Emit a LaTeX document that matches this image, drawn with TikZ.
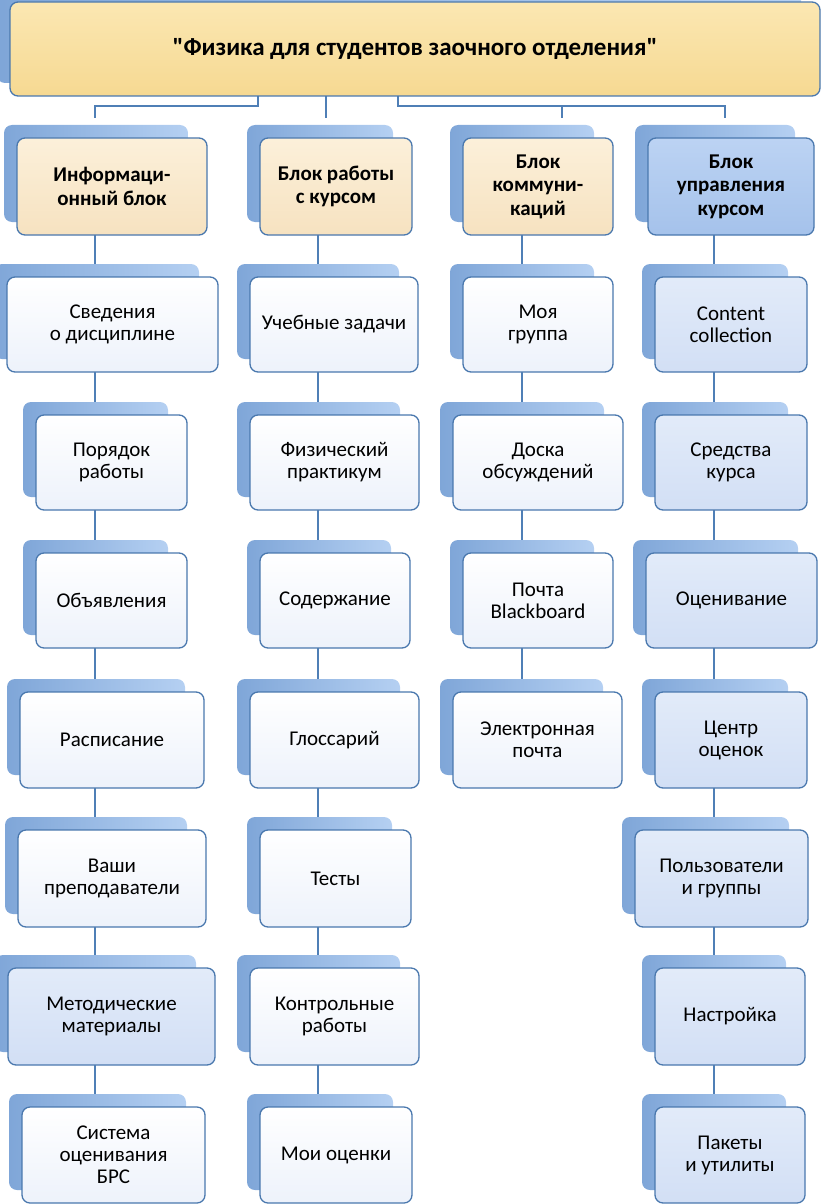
\documentclass[tikz,border=0pt]{standalone}
\usepackage{fontspec}
\setmainfont{Carlito}[Ligatures=TeXOff]
\usetikzlibrary{calc,backgrounds}
\definecolor{edgec}{HTML}{4A78AE}
\definecolor{connc}{HTML}{4F7FB6}
\definecolor{shL}{HTML}{7FA6D8}
\definecolor{shR}{HTML}{B5D0F2}
\definecolor{whiteB}{HTML}{EDF2FB}
\definecolor{blueA}{HTML}{E2EBF9}
\definecolor{blueB}{HTML}{D2DFF5}
\definecolor{hblueA}{HTML}{BCD3F3}
\definecolor{hblueB}{HTML}{A5C2EB}
\definecolor{peachA}{HTML}{FCF0DA}
\definecolor{peachB}{HTML}{F6E2C0}
\definecolor{goldA}{HTML}{FBE7B2}
\definecolor{goldB}{HTML}{F6D992}
\tikzset{
  front/.style={draw=edgec, line width=1.3pt, rounded corners=8pt, inner sep=0pt, outer sep=0pt,
    align=center, font=\fontsize{21}{22}\selectfont},
  whitebox/.style={front, top color=white, bottom color=whiteB},
  bluebox/.style={front, top color=blueA, bottom color=blueB},
  peachbox/.style={front, top color=peachA, bottom color=peachB, font=\bfseries\fontsize{21}{23.5}\selectfont},
  hbluebox/.style={front, top color=hblueA, bottom color=hblueB, font=\bfseries\fontsize{21}{23.5}\selectfont},
  goldbox/.style={front, top color=goldA, bottom color=goldB, font=\bfseries\fontsize{25}{28}\selectfont},
  shadowbox/.style={rounded corners=8pt, left color=shL, right color=shR},
  conn/.style={draw=connc, line width=2pt},
}
\newcommand\drawblock[7]{%
  \path[shadowbox] ({#2-13},{#3-13}) rectangle ({#4-19},{#5-13});
  \node[#6, minimum width={(#4-#2)*1pt}, minimum height={(#5-#3)*1pt}] (#1) at ({(#2+#4)/2},{(#3+#5)/2}) {#7};
}
\begin{document}
\begin{tikzpicture}[x=1pt,y=-1pt]
\useasboundingbox (0,0) rectangle (828,1204);
% top
\drawblock{top}{10}{2}{820}{96}{goldbox}{"Физика для студентов заочного отделения"}
% headers
\drawblock{h1}{17}{138}{207}{235}{peachbox}{Информаци-\\онный блок}
\drawblock{h2}{260}{138}{412}{235}{peachbox}{Блок работы\\с курсом}
\drawblock{h3}{463}{138}{613}{235}{peachbox}{Блок\\коммуни-\\каций}
\drawblock{h4}{648}{138}{814}{235}{hbluebox}{Блок\\управления\\курсом}
% row 2
\drawblock{a2}{7}{277}{218}{372}{whitebox}{Сведения\\о дисциплине}
\drawblock{b2}{250}{277}{418}{372}{whitebox}{Учебные задачи}
\drawblock{c2}{463}{277}{613}{372}{whitebox}{Моя\\группа}
\drawblock{d2}{655}{277}{807}{372}{bluebox}{Content\\collection}
% row 3
\drawblock{a3}{36}{415}{187}{510}{whitebox}{Порядок\\работы}
\drawblock{b3}{250}{415}{419}{510}{whitebox}{Физический\\практикум}
\drawblock{c3}{453}{415}{623}{510}{whitebox}{Доска\\обсуждений}
\drawblock{d3}{655}{415}{807}{510}{bluebox}{Средства\\курса}
% row 4
\drawblock{a4}{36}{553}{187}{648}{whitebox}{Объявления}
\drawblock{b4}{260}{553}{410}{648}{whitebox}{Содержание}
\drawblock{c4}{463}{553}{613}{648}{whitebox}{Почта\\Blackboard}
\drawblock{d4}{646}{553}{817}{648}{bluebox}{Оценивание}
% row 5
\drawblock{a5}{20}{692}{204}{788}{whitebox}{Расписание}
\drawblock{b5}{250}{692}{419}{788}{whitebox}{Глоссарий}
\drawblock{c5}{453}{692}{622}{788}{whitebox}{Электронная\\почта}
\drawblock{d5}{655}{692}{807}{788}{bluebox}{Центр\\оценок}
% row 6
\drawblock{a6}{18}{830}{206}{927}{whitebox}{Ваши\\преподаватели}
\drawblock{b6}{260}{830}{411}{927}{whitebox}{Тесты}
\drawblock{d6}{635}{830}{808}{927}{bluebox}{Пользователи\\и группы}
% row 7
\drawblock{a7}{8}{968}{215}{1065}{bluebox}{Методические\\материалы}
\drawblock{b7}{250}{968}{419}{1065}{whitebox}{Контрольные\\работы}
\drawblock{d7}{655}{968}{805}{1065}{bluebox}{Настройка}
% row 8
\drawblock{a8}{22}{1107}{205}{1203}{whitebox}{Система\\оценивания\\БРС}
\drawblock{b8}{260}{1107}{412}{1203}{whitebox}{Мои оценки}
\drawblock{d8}{655}{1107}{805}{1203}{bluebox}{Пакеты\\и утилиты}
% coordinates
\coordinate (t1) at (258,106);
\coordinate (t2) at (326,106);
\coordinate (t3) at (398,106);
\coordinate (x3) at (562,106);
\coordinate (x4) at (725,106);
\coordinate (colA) at (95,0);
\coordinate (colB) at (318,0);
\coordinate (colC) at (522,0);
\coordinate (colD) at (714,0);
\begin{scope}[on background layer]
\draw[conn] (top.south -| t1) -- (t1) -- (t1 -| colA) -- ($(h1.north -| colA)+(0,-20)$);
\draw[conn] (top.south -| t2) -- ($(h2.north -| t2)+(0,-20)$);
\draw[conn] (top.south -| t3) -- (t3) -- (x4) -- ($(h4.north -| x4)+(0,-20)$);
\draw[conn] (x3) -- ($(h3.north -| x3)+(0,-20)$);
\foreach \a/\b in {h1/a2,a2/a3,a3/a4,a4/a5,a5/a6,a6/a7,a7/a8}
  \draw[conn] (\a.south -| colA) -- (\b.north -| colA);
\foreach \a/\b in {h2/b2,b2/b3,b3/b4,b4/b5,b5/b6,b6/b7,b7/b8}
  \draw[conn] (\a.south -| colB) -- (\b.north -| colB);
\foreach \a/\b in {h3/c2,c2/c3,c3/c4,c4/c5}
  \draw[conn] (\a.south -| colC) -- (\b.north -| colC);
\foreach \a/\b in {h4/d2,d2/d3,d3/d4,d4/d5,d5/d6,d6/d7,d7/d8}
  \draw[conn] (\a.south -| colD) -- (\b.north -| colD);
\end{scope}
\end{tikzpicture}
\end{document}
